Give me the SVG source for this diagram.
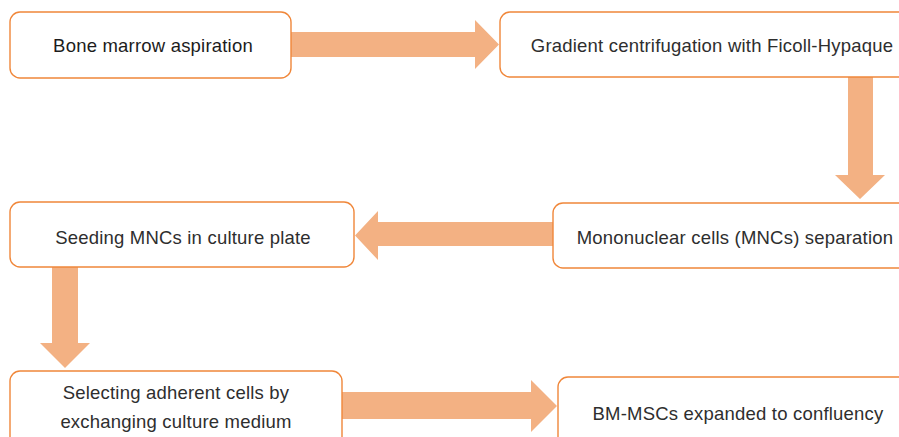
<svg xmlns="http://www.w3.org/2000/svg" width="899" height="437" viewBox="0 0 899 437">
<style>
.box{fill:#fff;stroke:#f0873a;stroke-width:1.4}
.arr{fill:#f3b183;stroke:none}
text{font-family:"Liberation Sans",Arial,sans-serif;font-size:18.5px;letter-spacing:0.2px;fill:#2e2e2e;text-anchor:middle}
.dark{fill:#1c1c1c}
</style>
<rect width="899" height="437" fill="#fff"/>
<g id="connectors">
<path class="arr" d="M291,32 H475 V20 L499,44.5 L475,69 V57 H291 Z"/>
<path class="arr" d="M848,77 V175 H835 L860,199 L885,175 H873 V77 Z"/>
<path class="arr" d="M553,222 H378 V211 L355,235.5 L378,260 V246 H553 Z"/>
<path class="arr" d="M52,267 V343 H40 L65,368 L90,343 H78 V267 Z"/>
<path class="arr" d="M342,392 H531 V380 L557,406 L531,432 V419 H342 Z"/>
</g>
<g id="n1"><rect class="box" x="10" y="12" width="281" height="66" rx="10"/><text class="dark" x="153" y="52">Bone marrow aspiration</text></g>
<g id="n2"><rect class="box" x="500" y="12" width="425" height="65" rx="10"/><text x="712" y="52">Gradient centrifugation with Ficoll-Hypaque</text></g>
<g id="n3"><rect class="box" x="553" y="203" width="362" height="65" rx="10"/><text x="735" y="244">Mononuclear cells (MNCs) separation</text></g>
<g id="n4"><rect class="box" x="10" y="202" width="344" height="65" rx="10"/><text x="183" y="244">Seeding MNCs in culture plate</text></g>
<g id="n5"><rect class="box" x="10" y="371" width="332" height="80" rx="10"/><text x="176" y="399">Selecting adherent cells by</text><text x="176" y="428">exchanging culture medium</text></g>
<g id="n6"><rect class="box" x="558" y="377" width="362" height="80" rx="10"/><text x="738" y="420">BM-MSCs expanded to confluency</text></g>
</svg>
